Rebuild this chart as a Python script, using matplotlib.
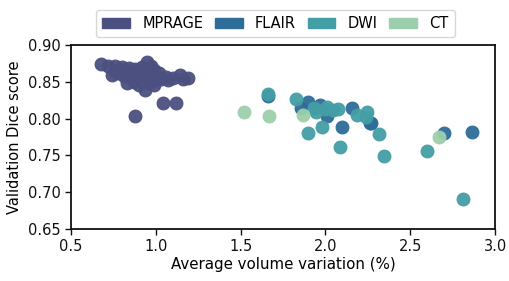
import numpy as np
import matplotlib.pyplot as plt
from matplotlib.patches import Patch

# MPRAGE
mprage_x = [0.68, 0.72, 0.76, 0.80, 0.84, 0.88, 0.92, 0.95, 0.97, 0.99, 1.02, 1.06,
            1.10, 1.14, 1.19, 1.16, 0.74, 0.78, 0.81, 0.85, 0.88, 0.91, 0.94, 0.97,
            1.00, 1.03, 1.07, 0.83, 0.87, 0.90, 0.935, 0.96, 0.99, 0.79, 0.86, 0.93,
            0.89, 0.76, 0.88, 1.04, 1.12]
mprage_y = [0.874, 0.872, 0.871, 0.870, 0.869, 0.868, 0.870, 0.877, 0.872, 0.866, 0.862, 0.857,
            0.855, 0.859, 0.855, 0.854, 0.859, 0.862, 0.858, 0.860, 0.856, 0.862, 0.858, 0.855,
            0.853, 0.854, 0.853, 0.848, 0.850, 0.846, 0.839, 0.848, 0.846, 0.866, 0.865, 0.866,
            0.861, 0.865, 0.803, 0.821, 0.821]

# FLAIR
flair_x = [1.66, 1.857, 1.896, 1.965, 2.01, 2.098, 2.155, 2.265, 2.27, 2.696, 2.863]
flair_y = [0.830, 0.814, 0.823, 0.818, 0.803, 0.789, 0.814, 0.794, 0.7935, 0.781, 0.782]

# DWI
dwi_x = [1.66, 1.824, 1.896, 1.945, 1.98, 2.0, 2.006, 2.043, 2.073, 2.086, 2.185,
         2.24, 2.243, 2.318, 2.343, 2.60, 2.81, 1.935]
dwi_y = [0.8334, 0.827, 0.780, 0.809, 0.788, 0.813, 0.816, 0.812, 0.813, 0.762, 0.805,
         0.802, 0.8085, 0.779, 0.749, 0.756, 0.691, 0.814]

# CT
ct_x = [1.518, 1.667, 1.87, 2.667]
ct_y = [0.8085, 0.8035, 0.805, 0.7746]

groups = [("MPRAGE", mprage_x, mprage_y, "#4b5080"),
          ("FLAIR", flair_x, flair_y, "#2f6d99"),
          ("DWI", dwi_x, dwi_y, "#449ea6"),
          ("CT", ct_x, ct_y, "#9dcfac")]

fig = plt.figure(figsize=(5.1, 2.81), dpi=100)
ax = fig.add_axes([0.139, 0.185, 0.832, 0.655])

for name, x, y, c in groups:
    ax.scatter(x, y, s=85, color=c, edgecolors=c, linewidths=0.8, alpha=0.95, zorder=3)

ax.set_xlim(0.5, 3.0)
ax.set_ylim(0.65, 0.90)
ax.set_xticks(np.arange(0.5, 3.01, 0.5))
ax.set_yticks(np.arange(0.65, 0.901, 0.05))
ax.xaxis.set_major_formatter(plt.FormatStrFormatter("%.1f"))
ax.yaxis.set_major_formatter(plt.FormatStrFormatter("%.2f"))
ax.tick_params(labelsize=10.5, length=4, width=1, colors="#111111")
for sp in ax.spines.values():
    sp.set_linewidth(1.3)
    sp.set_color("#111111")

ax.set_xlabel("Average volume variation (%)", fontsize=10.8, labelpad=2)
ax.set_ylabel("Validation Dice score", fontsize=10.5, labelpad=4)

handles = [Patch(facecolor=c, edgecolor=c, label=n) for n, _, _, c in groups]
leg = fig.legend(handles=handles, loc="upper center", bbox_to_anchor=(0.54, 0.99),
                 ncol=4, fontsize=10.5, frameon=True, handlelength=1.9, handleheight=0.7,
                 columnspacing=0.8, handletextpad=0.85, borderpad=0.4)
leg.get_frame().set_edgecolor("#cccccc")

fig.savefig("out.png", dpi=100)
